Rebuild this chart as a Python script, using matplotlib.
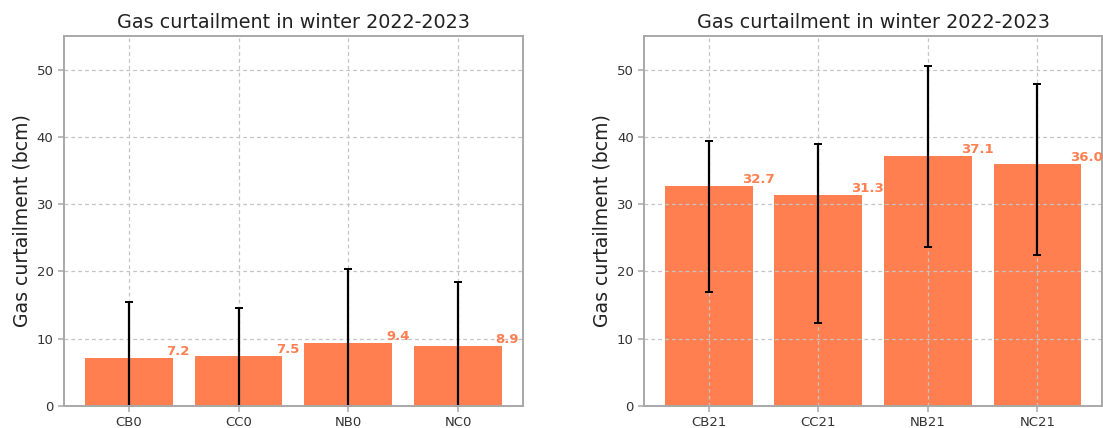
import matplotlib
matplotlib.use("Agg")
import matplotlib.pyplot as plt
import numpy as np

# Scenario groups and curtailment results (bcm)
left_labels = ["CB0", "CC0", "NB0", "NC0"]
left_values = [7.2, 7.5, 9.4, 8.9]
left_low = [0.0, 0.0, 0.0, 0.0]
left_high = [15.5, 14.5, 20.4, 18.5]

right_labels = ["CB21", "CC21", "NB21", "NC21"]
right_values = [32.7, 31.3, 37.1, 36.0]
right_low = [16.9, 12.3, 23.6, 22.4]
right_high = [39.4, 38.9, 50.5, 47.8]

title = "Gas curtailment in winter 2022-2023"
ylabel = "Gas curtailment (bcm)"
yticks = [0, 10, 20, 30, 40, 50]

BAR = "#FF7F50"
SPINE = "#a8a8a8"

fig = plt.figure(figsize=(11.03, 4.28), dpi=100)
ax_l = fig.add_axes([0.058, 0.0514, 0.416, 0.8645])
ax_r = fig.add_axes([0.5839, 0.0514, 0.4152, 0.8645])


def draw(ax, labels, values, low, high):
    x = np.arange(len(labels))
    vals = np.array(values)
    yerr = np.vstack([vals - np.array(low), np.array(high) - vals])
    ax.bar(x, vals, width=0.8, color=BAR)
    ax.errorbar(x, vals, yerr=yerr, fmt="none", ecolor="black",
                elinewidth=1.6, capsize=3, capthick=1.4)
    for xi, v in zip(x, vals):
        ax.text(xi + 0.45, v, f"{v:.1f}", ha="center", va="bottom",
                color=BAR, fontsize=9.5, fontweight="bold", clip_on=False)
    ax.set_ylim(0, 55)
    ax.set_yticks(yticks)
    ax.set_xticks(x)
    ax.set_xticklabels(labels)
    ax.set_xlim(-0.59, len(labels) - 0.41)
    ax.grid(True, linestyle=(0, (3, 2.5)), color="#c4c4c4", linewidth=0.9)
    ax.set_title(title, fontsize=13.8, color="#222222", pad=6)
    ax.set_ylabel(ylabel, fontsize=13.6, color="#222222")
    for s in ax.spines.values():
        s.set_color(SPINE)
        s.set_linewidth(1.4)
    ax.tick_params(colors=SPINE, labelcolor="#333333", labelsize=9.5,
                   width=1.1, length=4)


draw(ax_l, left_labels, left_values, left_low, left_high)
draw(ax_r, right_labels, right_values, right_low, right_high)

fig.savefig("out.png", dpi=100)
